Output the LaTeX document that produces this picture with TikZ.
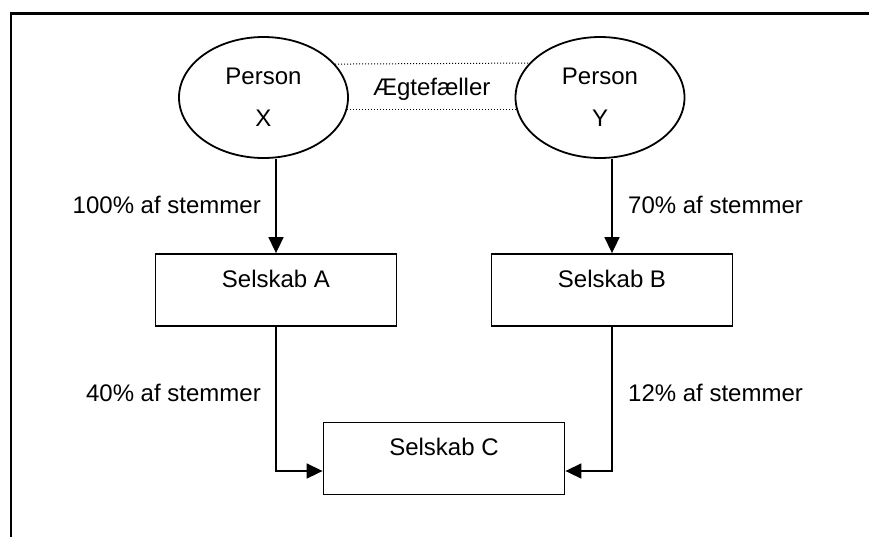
\documentclass[tikz,border=0pt]{standalone}
\usepackage{fontspec}
\setmainfont{Liberation Sans}
\usetikzlibrary{shapes.geometric,arrows.meta,calc}

\tikzset{
  lbl/.style={inner sep=0pt, font=\fontsize{24}{28}\selectfont},
  person/.style={ellipse, draw, line width=1.8pt, minimum width=169pt,
    minimum height=121pt, inner sep=0pt, align=center,
    font=\fontsize{24}{41.7}\selectfont},
  company/.style={rectangle, draw, line width=1.8pt, minimum width=241pt,
    minimum height=72pt, inner sep=0pt, text height=10pt, text depth=16pt,
    font=\fontsize{24}{28}\selectfont},
  arr/.style={line width=1.6pt, -{Triangle[length=16pt,width=15pt]}},
  dots/.style={line width=1pt, dash pattern=on 1pt off 2pt},
  frame/.style={line width=2.2pt}
}

\begin{document}
\begin{tikzpicture}[x=1pt,y=-1pt]
  \useasboundingbox (0,0) rectangle (869,536);

  % open frame along the left and top edges
  \coordinate (fb) at (11,537);
  \coordinate (fc) at (11,13.5);
  \coordinate (fr) at (870,13.5);
  \draw[frame] (fb) -- (fc) -- (fr);

  % the two persons
  \node[person] (X) at (263.5,97.5) {Person\\X};
  \node[person] (Y) at (600,97.5) {Person\\Y};

  % spouse link
  \draw[dots] (X.25.9) -- (Y.154.1);
  \draw[dots] (X.-8.95) -- (Y.188.95);
  \node[lbl, anchor=base] (spouse) at (431.7,95) {Ægtefæller};

  % companies
  \node[company] (A) at (276,290) {Selskab A};
  \node[company] (B) at (612,290) {Selskab B};
  \node[company] (C) at (444,458.5) {Selskab C};

  % ownership arrows
  \draw[arr] (X.south -| A.north) -- (A.north);
  \draw[arr] (Y.south -| B.north) -- (B.north);
  \draw[arr] (A.south) |- ($(C.west)+(0,12.5)$);
  \draw[arr] (B.south) |- ($(C.east)+(0,12.5)$);

  % voting shares
  \node[lbl, anchor=base east] (lx) at (261,213) {100\% af stemmer};
  \node[lbl, anchor=base west] (ly) at (628,213) {70\% af stemmer};
  \node[lbl, anchor=base east] (la) at (261,401) {40\% af stemmer};
  \node[lbl, anchor=base west] (lb) at (628,401) {12\% af stemmer};
\end{tikzpicture}
\end{document}
